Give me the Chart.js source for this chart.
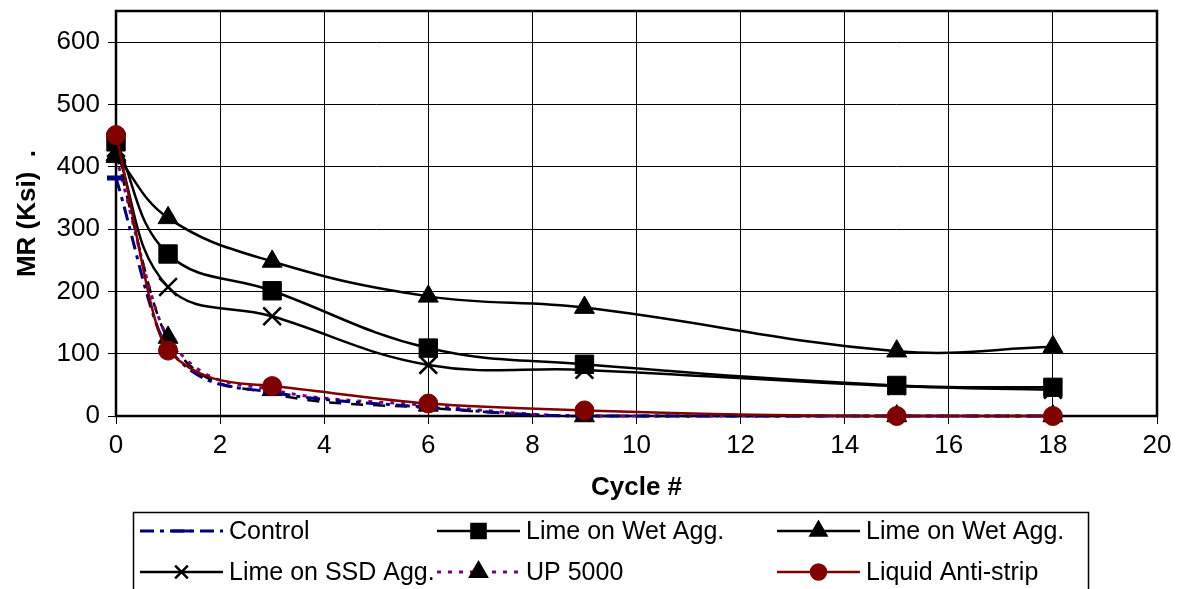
<!DOCTYPE html>
<html>
<head>
<meta charset="utf-8">
<script src="https://cdn.jsdelivr.net/npm/chart.js@4/dist/chart.umd.min.js"></script>
<style>
  html, body { margin: 0; padding: 0; background: #fff; }
</style>
</head>
<body>
<canvas id="mrChart" width="1179" height="589"></canvas>
<script>
// cycle numbers and MR values (Ksi)
const cycles = [0, 1, 3, 6, 9, 15, 18];
const control = [382, 109, 38, 14, 0, 0, 0];
const limeWetSquare = [440, 260, 201, 109, 83, 49, 46];
const limeWetTriangle = [419, 318, 248, 192, 174, 104, 111];
const limeSSD = [430, 207, 160, 82, 74, 48, 42];
const up5000 = [416, 126, 42, 17, 0, 0, 0];
const liquidAntiStrip = [451, 105, 48, 20, 9, 0, 0];
const extraDashed = [422, 124, 36, 13, 0, 0, 0]; // black dashed trace, not in legend

const labels = ['Control', 'Lime on Wet Agg.', 'Lime on Wet Agg.', 'Lime on SSD Agg.', 'UP 5000', 'Liquid Anti-strip'];
const xTicks = [0, 2, 4, 6, 8, 10, 12, 14, 16, 18, 20];
const yTickMax = 600;

Chart.defaults.font.family = "'Liberation Sans', Arial, sans-serif";
Chart.defaults.font.size = 26;
Chart.defaults.color = '#000';

function pts(values) 
{
  return cycles.map((c, i) => ({ x: c, y: values[i] }));
}

const datasets = [
  {
    label: labels[0], data: pts(control),
    borderColor: '#000080', borderWidth: 3, borderDash: [14, 6, 4, 6],
    pointStyle: 'line', pointRadius: 9, pointBorderWidth: 5,
    pointBorderColor: '#000080', pointBackgroundColor: '#000080',
    cubicInterpolationMode: 'monotone', order: 5
  },
  {
    label: labels[1], data: pts(limeWetSquare),
    borderColor: '#000', borderWidth: 2.5, tension: 0.4,
    pointStyle: 'rect', pointRadius: 13, pointBorderWidth: 1,
    pointBorderColor: '#000', pointBackgroundColor: '#000', order: 3
  },
  {
    label: labels[2], data: pts(limeWetTriangle),
    borderColor: '#000', borderWidth: 2.5, tension: 0.4,
    pointStyle: 'triangle', pointRadius: 11.5, pointBorderWidth: 1,
    pointBorderColor: '#000', pointBackgroundColor: '#000', order: 2
  },
  {
    label: labels[3], data: pts(limeSSD),
    borderColor: '#000', borderWidth: 2.5, tension: 0.4,
    pointStyle: 'crossRot', pointRadius: 12.5, pointBorderWidth: 2.5,
    pointBorderColor: '#000', pointBackgroundColor: '#000', order: 4
  },
  {
    label: labels[4], data: pts(up5000),
    borderColor: '#800080', borderWidth: 3, borderDash: [4, 7],
    pointStyle: 'triangle', pointRadius: 11.5, pointBorderWidth: 1,
    pointBorderColor: '#000', pointBackgroundColor: '#000',
    cubicInterpolationMode: 'monotone', order: 6
  },
  {
    label: labels[5], data: pts(liquidAntiStrip),
    borderColor: '#800000', borderWidth: 2.5,
    pointStyle: 'circle', pointRadius: 9.5, pointBorderWidth: 1,
    pointBorderColor: '#800000', pointBackgroundColor: '#800000',
    cubicInterpolationMode: 'monotone', order: 0
  },
  {
    label: '', data: pts(extraDashed),
    borderColor: '#000', borderWidth: 2.5, borderDash: [12, 10],
    pointRadius: 0, cubicInterpolationMode: 'monotone', order: 7
  }
];
datasets.forEach(d => { d.clip = false; d.fill = false; });

// frame around the plot area
const plotFrame = {
  id: 'plotFrame',
  beforeDatasetsDraw(chart) 
  {
    const { ctx, chartArea: a } = chart;
    ctx.save();
    ctx.strokeStyle = '#000';
    ctx.lineWidth = 2.5;
    ctx.strokeRect(a.left, a.top, a.right - a.left, a.bottom - a.top);
    ctx.restore();
  }
};

// boxed legend, 3 columns x 2 rows, line sample with marker
const boxLegend = {
  id: 'boxLegend',
  afterDraw(chart) 
  {
    const ctx = chart.ctx;
    const cols = [140, 437, 777];
    const rows = [531, 572];
    const sampleLen = 83;
    const markerSize = { line: 10, rect: 10, triangle: 9, crossRot: 9, circle: 7.5 };
    ctx.save();
    ctx.strokeStyle = '#000';
    ctx.lineWidth = 1.5;
    ctx.strokeRect(133.5, 512.5, 955, 100);
    labels.forEach((text, i) => {
      const ds = chart.data.datasets[i];
      const x = cols[i % 3];
      const y = rows[Math.floor(i / 3)];
      ctx.save();
      ctx.strokeStyle = ds.borderColor;
      ctx.lineWidth = ds.borderWidth;
      ctx.setLineDash(ds.borderDash || []);
      ctx.beginPath();
      ctx.moveTo(x, y);
      ctx.lineTo(x + sampleLen, y);
      ctx.stroke();
      ctx.setLineDash([]);
      ctx.strokeStyle = ds.pointBorderColor;
      ctx.fillStyle = ds.pointBackgroundColor;
      Chart.helpers.drawPoint(ctx, {
        pointStyle: ds.pointStyle,
        radius: markerSize[ds.pointStyle],
        borderWidth: ds.pointBorderWidth,
        rotation: 0
      }, x + sampleLen / 2, y);
      ctx.restore();
      ctx.fillStyle = '#000';
      ctx.font = "25px 'Liberation Sans', Arial, sans-serif";
      ctx.textBaseline = 'middle';
      ctx.fillText(text, x + sampleLen + 6, y + 1);
    });
    ctx.restore();
  }
};

new Chart(document.getElementById('mrChart'), {
  type: 'line',
  data: { datasets: datasets },
  options: {
    responsive: false,
    animation: false,
    events: [],
    layout: { autoPadding: false, padding: { top: 11, right: 22, bottom: 86, left: 0 } },
    plugins: {
      legend: { display: false },
      tooltip: { enabled: false }
    },
    scales: {
      x: {
        type: 'linear', min: 0, max: 20,
        afterBuildTicks: scale => { scale.ticks = xTicks.map(v => ({ value: v })); },
        afterFit: scale => { scale.height = 87; scale.paddingLeft = 0; scale.paddingRight = 0; },
        ticks: { padding: 6, maxRotation: 0, font: { size: 26 } },
        grid: { color: '#000', lineWidth: 1, tickLength: 8 },
        border: { display: false },
        title: { display: true, text: 'Cycle #', font: { size: 26, weight: 'bold' }, padding: { top: 0, bottom: 0 } }
      },
      y: {
        min: 0, max: 650,
        ticks: { stepSize: 100, padding: 8, font: { size: 26 } },
        afterBuildTicks: scale => { scale.ticks = scale.ticks.filter(t => t.value <= yTickMax); },
        afterFit: scale => { scale.width = 116; scale.paddingTop = 0; scale.paddingBottom = 0; },
        grid: { color: '#000', lineWidth: 1, tickLength: 8 },
        border: { display: false },
        title: { display: true, text: 'MR (Ksi)  .', font: { size: 26, weight: 'bold' }, padding: { top: 12, bottom: 0 } }
      }
    }
  },
  plugins: [plotFrame, boxLegend]
});
</script>
</body>
</html>
